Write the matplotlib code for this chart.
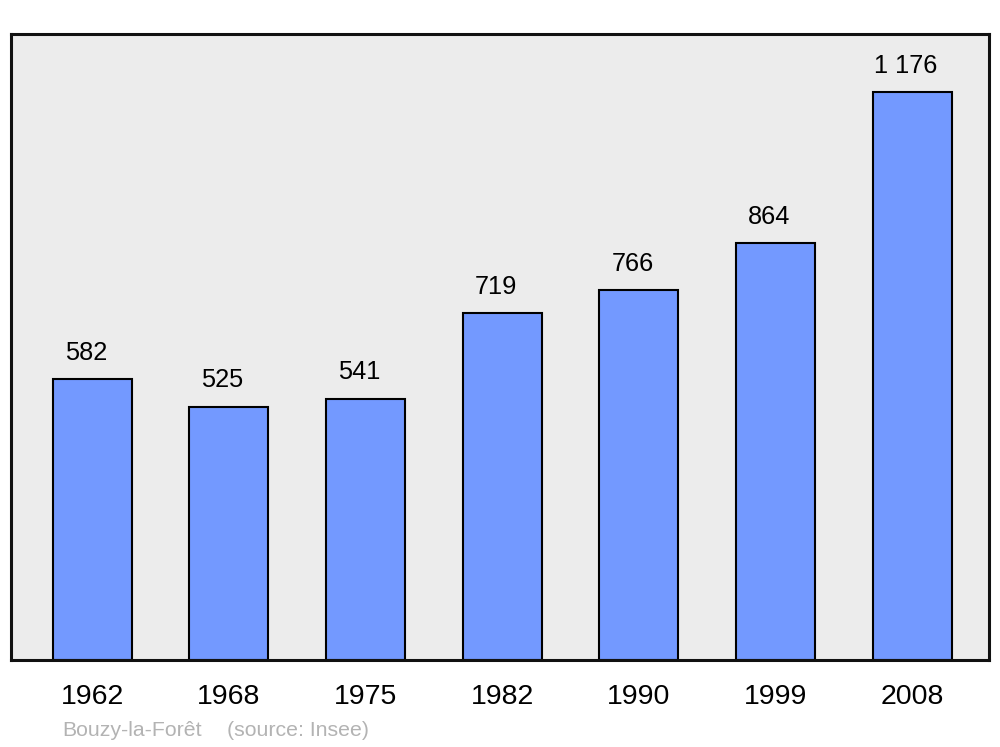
import matplotlib.pyplot as plt

plt.rcParams['font.family'] = ['Liberation Sans', 'DejaVu Sans']

# donnees
annees = ["1962", "1968", "1975", "1982", "1990", "1999", "2008"]
population = [582, 525, 541, 719, 766, 864, 1176]

fig = plt.figure(figsize=(10, 7.47), dpi=100)
ax = fig.add_axes([0.011, 0.1165, 0.978, 0.838])
ax.set_facecolor("#ececec")

x = range(len(annees))
ax.bar(x, population, width=0.578, color="#7399ff", edgecolor="black", linewidth=1.5, zorder=2)

# etiquettes des valeurs
for i, v in enumerate(population):
    ax.annotate("{:,}".format(v).replace(",", " "), (i, v), xytext=(-4.5, 14),
                textcoords="offset points", ha="center", va="baseline", fontsize=18.3)

ax.set_xlim(-0.593, 6.563)
ax.set_ylim(0, 1297)
ax.set_xticks(list(x))
ax.set_xticklabels(annees, fontsize=20.5)
ax.tick_params(axis="x", length=0, pad=17)
ax.set_yticks([])
for s in ax.spines.values():
    s.set_linewidth(2.2)
    s.set_color("#111111")

fig.text(0.062, 1 - 731 / 747, "Bouzy-la-Forêt", color="#b3b3b3",
         fontsize=15.3, va="center", ha="left")
fig.text(0.227, 1 - 731 / 747, "(source: Insee)", color="#b3b3b3",
         fontsize=15.3, va="center", ha="left")

fig.savefig("out.png", dpi=100)
